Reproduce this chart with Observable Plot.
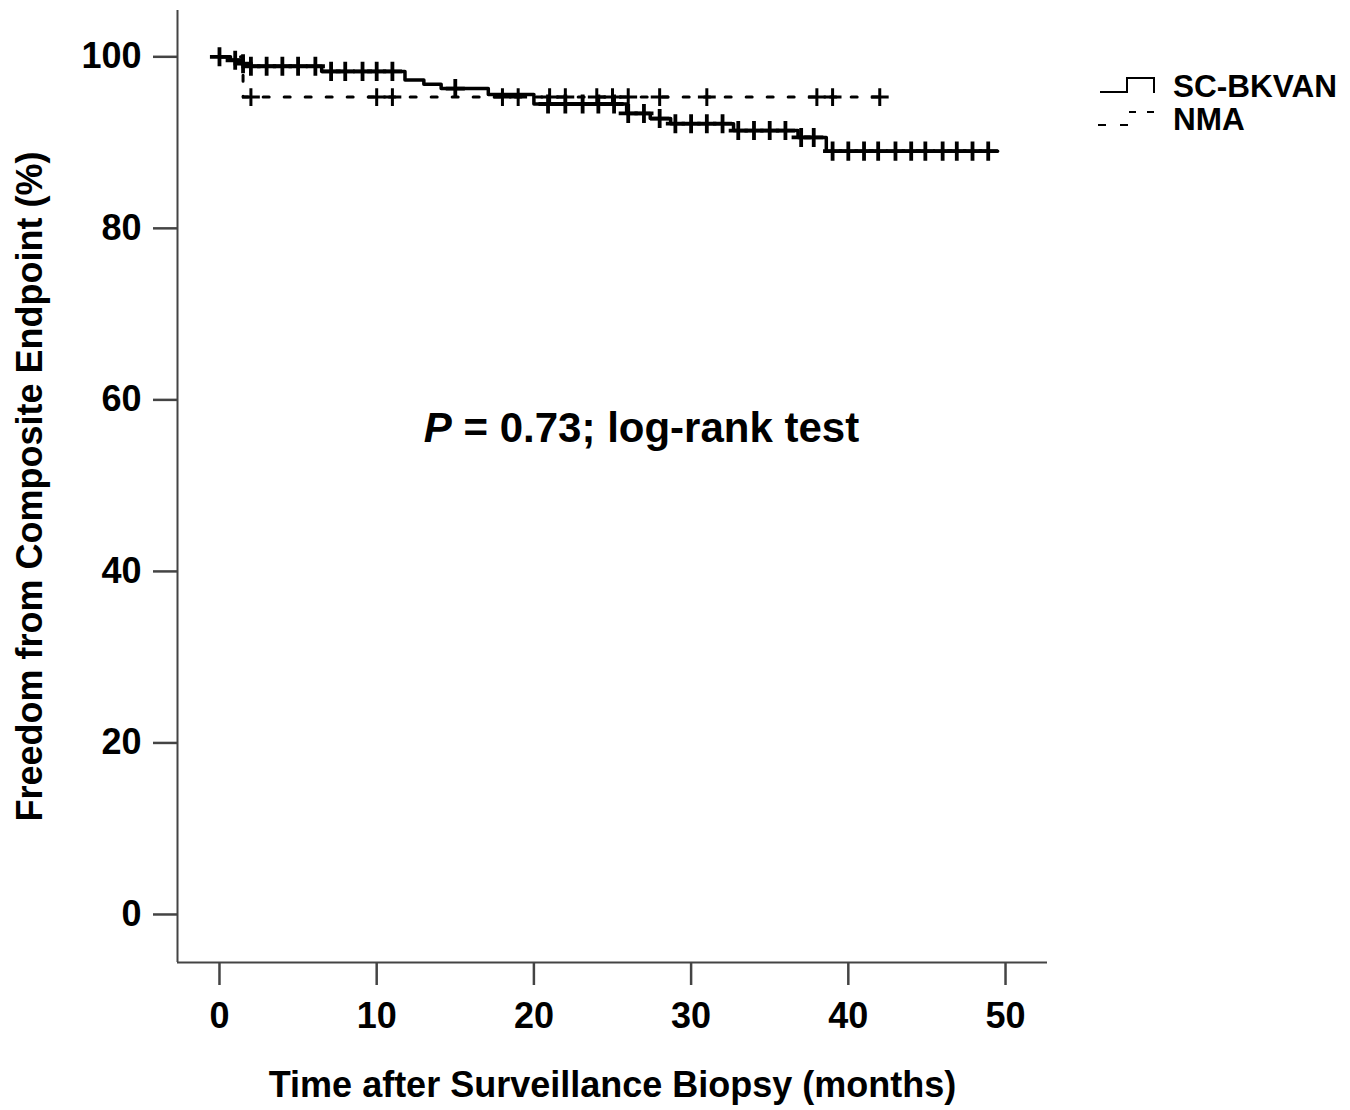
<!DOCTYPE html>
<html><head><meta charset="utf-8">
<script src="https://cdn.jsdelivr.net/npm/d3@7"></script>
<script src="https://cdn.jsdelivr.net/npm/@observablehq/plot@0.6"></script>
<style>
body{margin:0;background:#fff;}
#chart{width:1350px;height:1110px;}
</style></head><body><div id="chart"></div>
<script>
// ---- data ----
const groups = ["SC-BKVAN", "NMA"];
const scTime = [0, 0.7, 1.4, 2.0, 6.5, 11.8, 13.0, 14.1, 17.1, 20.0, 25.9, 27.4, 28.7, 32.7, 36.8, 38.6];
const scSurv = [100, 99.6, 99.2, 98.9, 98.3, 97.3, 96.8, 96.3, 95.6, 94.5, 93.4, 92.8, 92.2, 91.4, 90.6, 89.0];
const scEnd = 49.5;
const scCensor = [0, 1.0, 1.5, 2.0, 3.0, 4.0, 5.0, 6.1, 7.1, 8.0, 9.1, 10.0, 11.0, 15.0, 20.9, 22.0, 23.1, 24.1, 25.1, 26.0, 27.0, 28.0, 29.0, 30.0, 31.0, 32.0, 33.0, 34.0, 35.0, 36.0, 37.0, 37.8, 39.0, 40.0, 41.0, 41.9, 43.0, 44.0, 44.9, 46.0, 46.9, 47.9, 48.9];
const nmaTime = [0, 1.5];
const nmaSurv = [100, 95.3];
const nmaEnd = 42.2;
const nmaCensor = [2.0, 10.0, 11.0, 18.0, 19.0, 21.0, 22.0, 24.0, 25.0, 26.0, 28.0, 31.0, 38.0, 39.0, 42.0];
const xTicks = [0, 10, 20, 30, 40, 50];
const yTicks = [0, 20, 40, 60, 80, 100];
const xDomain = [-2.67, 52.67];
const yDomain = [-5.6, 105.4];
const xLabel = "Time after Surveillance Biopsy (months)";
const yLabel = "Freedom from Composite Endpoint (%)";
const annotation = "P = 0.73; log-rank test";
const annotationT = 13.0;
const annotationS = 56.6;

// ---- helpers ----
function stepRows(times, surv, end, group) {
  const rows = times.map((t, i) => ({t, s: surv[i], group}));
  rows.push({t: end, s: surv[surv.length - 1], group});
  return rows;
}
function levelAt(times, surv, t) {
  let s = surv[0];
  for (let i = 0; i < times.length; i++) if (times[i] <= t) s = surv[i];
  return s;
}
const scRows = stepRows(scTime, scSurv, scEnd, groups[0]);
const nmaRows = stepRows(nmaTime, nmaSurv, nmaEnd, groups[1]);
const scMarks = scCensor.map(t => ({t, s: levelAt(scTime, scSurv, t)}));
const nmaMarks = nmaCensor.map(t => ({t, s: levelAt(nmaTime, nmaSurv, t)}));

const font = "'Liberation Sans', Arial, Helvetica, sans-serif";

const plot = Plot.plot({
  width: 1350, height: 1110,
  marginLeft: 177, marginRight: 303, marginTop: 10, marginBottom: 148,
  style: {fontFamily: font, fontSize: "36px", fontWeight: "bold", color: "#000", background: "#fff", overflow: "visible"},
  x: {domain: xDomain},
  y: {domain: yDomain},
  marks: [
    Plot.ruleX([xDomain[0]], {stroke: "#444", strokeWidth: 2}),
    Plot.ruleY([yDomain[0]], {stroke: "#444", strokeWidth: 2}),
    Plot.axisX({ticks: xTicks, tickSize: 23, tickPadding: 17, stroke: "#444", strokeWidth: 2.5, label: null, fill: "#000"}),
    Plot.axisY({ticks: yTicks, tickSize: 24, tickPadding: 12, stroke: "#444", strokeWidth: 2.5, label: null, fill: "#000"}),
    Plot.line(nmaRows, {x: "t", y: "s", curve: "step-after", stroke: "#000", strokeWidth: 3, strokeDasharray: "6,15"}),
    Plot.line(scRows, {x: "t", y: "s", curve: "step-after", stroke: "#000", strokeWidth: 3.5}),
    Plot.dot(nmaMarks, {x: "t", y: "s", symbol: "plus", r: 5.8, stroke: "#000", strokeWidth: 3}),
    Plot.dot(scMarks, {x: "t", y: "s", symbol: "plus", r: 6.2, stroke: "#000", strokeWidth: 3.8}),
    Plot.text([annotation], {x: () => annotationT, y: () => annotationS, text: d => d, textAnchor: "start", fontSize: 42, fill: "#000", className: "pval"}),
    Plot.text([xLabel], {frameAnchor: "bottom", dy: 134, text: d => d, textAnchor: "middle", fontSize: 36, fill: "#000"}),
    Plot.text([yLabel], {frameAnchor: "left", dx: -147, rotate: -90, text: d => d, textAnchor: "middle", fontSize: 36, fill: "#000"})
  ]
});
document.getElementById("chart").appendChild(plot);

// italic P in annotation
d3.select(plot).selectAll(".pval text").each(function() {
  const t = d3.select(this);
  const rest = annotation.slice(1);
  t.text(null);
  t.append("tspan").attr("font-style", "italic").text(annotation[0]);
  t.append("tspan").text(rest);
});

// legend
const svg = d3.select(plot);
const lg = svg.append("g").attr("fill", "none").attr("stroke", "#000").attr("stroke-width", 2);
lg.append("path").attr("d", "M1100,92H1127V78H1154V93");
lg.append("path").attr("d", "M1098,125H1106M1120,125H1128M1129,112H1136M1147,112H1154");
const lt = svg.append("g").attr("font-family", font).attr("font-size", 31.5).attr("font-weight", "bold").attr("fill", "#000").attr("text-anchor", "start");
lt.append("text").attr("x", 1173).attr("y", 97).text(groups[0]);
lt.append("text").attr("x", 1173).attr("y", 130).text(groups[1]);
</script></body></html>
